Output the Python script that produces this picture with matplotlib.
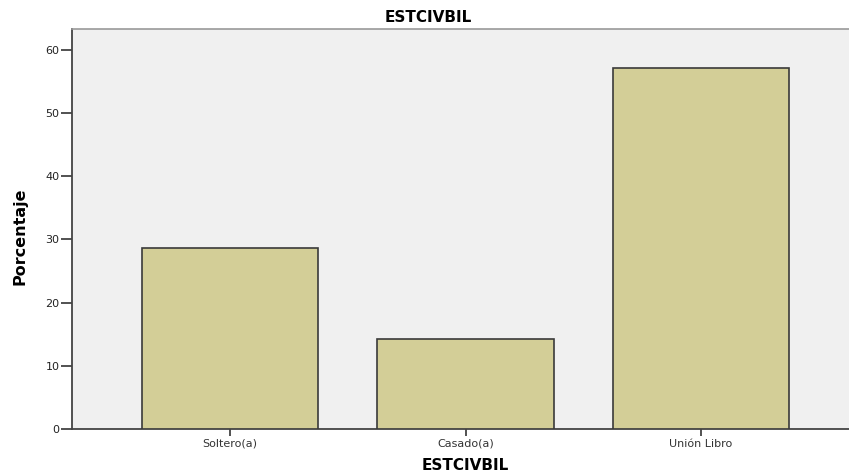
import matplotlib
matplotlib.use("Agg")
import matplotlib.pyplot as plt

categories = ["Soltero(a)", "Casado(a)", "Unión Libro"]
values = [28.57, 14.29, 57.14]
yticks = [0, 10, 20, 30, 40, 50, 60]

fig = plt.figure(figsize=(8.49, 4.75), dpi=100)
ax = fig.add_axes([72/849, 46/475, 777/849, 400/475])
ax.set_facecolor("#F0F0F0")
x = list(range(len(categories)))
ax.bar(x, values, width=0.75, color="#D3CE97", edgecolor="#3a3a3a", linewidth=1.2, zorder=3)
ax.set_xlim(-0.671, 2.628)
ax.set_ylim(0, 63.3)
ax.set_yticks(yticks)
ax.set_yticklabels([str(v) for v in yticks], fontsize=8, color="#222222")
ax.set_xticks(x)
ax.set_xticklabels(categories, fontsize=8, color="#333333")
ax.tick_params(axis="y", direction="out", length=8, width=1.2, color="#333333", pad=1)
ax.tick_params(axis="x", direction="out", length=5, width=1.2, color="#333333", pad=2)
for s in ["left", "bottom"]:
    ax.spines[s].set_color("#444444")
    ax.spines[s].set_linewidth(1.3)
ax.spines["top"].set_color("#999999")
ax.spines["top"].set_linewidth(1.2)
ax.spines["right"].set_visible(False)
ax.set_ylabel("")
ax.set_xlabel("")
fig.text(20/849, 1 - 236/475, "Porcentaje", ha="center", va="center", rotation=90,
         fontsize=11.5, fontweight="bold")
fig.text(465/849, 1 - 465/475, "ESTCIVBIL", ha="center", va="center", fontsize=11, fontweight="bold")
fig.text(428/849, 1 - 17/475, "ESTCIVBIL", ha="center", va="center", fontsize=11, fontweight="bold")
fig.savefig("out.png", dpi=100)
